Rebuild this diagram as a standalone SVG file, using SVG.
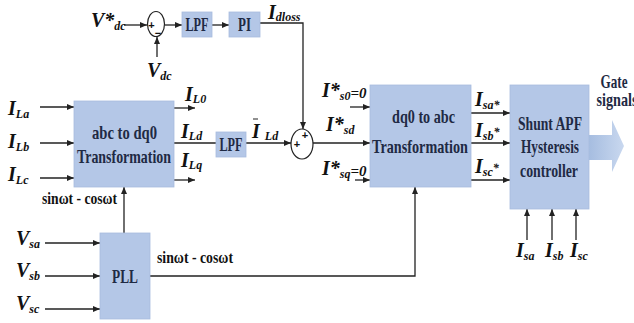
<svg xmlns="http://www.w3.org/2000/svg" width="634" height="323" viewBox="0 0 634 323">
<style>
.box{fill:#b4c7e7;stroke:#a8bcdf;stroke-width:0.8}
.ln{fill:none;stroke:#222;stroke-width:1.3}
.ar{fill:none;stroke:#222;stroke-width:1.3;marker-end:url(#ah)}
.bt{font-family:"Liberation Serif","Times New Roman",serif;font-weight:bold;font-size:19px;fill:#1f2a44;text-anchor:middle}
.lb{font-family:"Liberation Serif","Times New Roman",serif;font-weight:bold;font-style:italic;font-size:20px;fill:#111}
.sb{font-size:12px}
.pl{font-family:"Liberation Sans",Arial,sans-serif;font-weight:bold;font-size:11px;fill:#111;text-anchor:middle}
.st{font-family:"Liberation Serif","Times New Roman",serif;font-weight:bold;font-size:17px;fill:#111}
</style>
<defs>
<marker id="ah" markerUnits="userSpaceOnUse" markerWidth="8" markerHeight="6" refX="7" refY="3" orient="auto">
<path d="M0,0 L7,3 L0,6 z" fill="#222"/>
</marker>
<linearGradient id="gg" x1="0" y1="0" x2="1" y2="0">
<stop offset="0" stop-color="#a6bde0"/>
<stop offset="1" stop-color="#c9d8ef"/>
</linearGradient>
</defs>

<g id="connectors">
<line class="ar" x1="124" y1="25" x2="147" y2="25"/>
<line class="ar" x1="157" y1="57" x2="157" y2="37"/>
<line class="ar" x1="165" y1="25" x2="182" y2="25"/>
<line class="ar" x1="212" y1="25" x2="229" y2="25"/>
<polyline class="ar" points="260,23 303,23 303,129"/>
<line class="ar" x1="40" y1="107" x2="74" y2="107"/>
<line class="ar" x1="40" y1="143" x2="74" y2="143"/>
<line class="ar" x1="40" y1="178" x2="74" y2="178"/>
<line class="ar" x1="174" y1="108" x2="195" y2="108"/>
<line class="ln" x1="174" y1="143" x2="216" y2="143"/>
<line class="ar" x1="174" y1="180" x2="195" y2="180"/>
<line class="ar" x1="246" y1="143" x2="291" y2="143"/>
<line class="ar" x1="313" y1="143" x2="370" y2="143"/>
<line class="ar" x1="350" y1="107" x2="370" y2="107"/>
<line class="ar" x1="355" y1="180" x2="370" y2="180"/>
<line class="ar" x1="471" y1="113" x2="510" y2="113"/>
<line class="ar" x1="471" y1="143" x2="510" y2="143"/>
<line class="ar" x1="471" y1="180" x2="510" y2="180"/>
<line class="ar" x1="527" y1="240" x2="527" y2="209"/>
<line class="ar" x1="552" y1="240" x2="552" y2="209"/>
<line class="ar" x1="576" y1="240" x2="576" y2="209"/>
<line class="ar" x1="45" y1="243" x2="100" y2="243"/>
<line class="ar" x1="45" y1="276" x2="100" y2="276"/>
<line class="ar" x1="45" y1="309" x2="100" y2="309"/>
<line class="ar" x1="124" y1="233" x2="124" y2="187"/>
<polyline class="ar" points="150,276 415,276 415,187"/>
</g>

<g id="sum1">
<ellipse cx="156" cy="24" rx="8.5" ry="12.5" fill="none" stroke="#222" stroke-width="1.2"/>
<text class="pl" x="151.5" y="29">+</text>
<text class="pl" x="158" y="37">−</text>
</g>
<g id="lpf1">
<rect class="box" x="182" y="12" width="30" height="25"/>
<text class="bt" x="197" y="31" textLength="23" lengthAdjust="spacingAndGlyphs">LPF</text>
</g>
<g id="pi">
<rect class="box" x="229" y="12" width="31" height="25"/>
<text class="bt" x="244.5" y="31" textLength="13" lengthAdjust="spacingAndGlyphs">PI</text>
</g>
<g id="abc2dq0">
<rect class="box" x="74" y="101" width="100" height="86"/>
<text class="bt" x="124.5" y="139" textLength="65" lengthAdjust="spacingAndGlyphs">abc to dq0</text>
<text class="bt" x="124" y="163" textLength="94" lengthAdjust="spacingAndGlyphs">Transformation</text>
</g>
<g id="lpf2">
<rect class="box" x="216" y="132" width="30" height="25"/>
<text class="bt" x="231" y="151" textLength="23" lengthAdjust="spacingAndGlyphs">LPF</text>
</g>
<g id="sum2">
<ellipse cx="302" cy="144" rx="11" ry="15" fill="none" stroke="#222" stroke-width="1.2"/>
<text class="pl" x="305" y="139">+</text>
<text class="pl" x="297" y="148">+</text>
</g>
<g id="dq02abc">
<rect class="box" x="370" y="85" width="101" height="102"/>
<text class="bt" x="423.5" y="123" textLength="63" lengthAdjust="spacingAndGlyphs">dq0 to abc</text>
<text class="bt" x="420" y="153" textLength="96" lengthAdjust="spacingAndGlyphs">Transformation</text>
</g>
<g id="shunt">
<rect class="box" x="510" y="85" width="79" height="124"/>
<text class="bt" x="550" y="130" textLength="64" lengthAdjust="spacingAndGlyphs">Shunt APF</text>
<text class="bt" x="550" y="153" textLength="58" lengthAdjust="spacingAndGlyphs">Hysteresis</text>
<text class="bt" x="549" y="177" textLength="58" lengthAdjust="spacingAndGlyphs">controller</text>
</g>
<g id="gate">
<polygon points="589,135 612,135 612,120 624,146 612,172 612,160 589,160" fill="url(#gg)"/>
<text class="bt" x="614" y="88" font-size="17" textLength="27" lengthAdjust="spacingAndGlyphs">Gate</text>
<text class="bt" x="617" y="106" font-size="17" textLength="41" lengthAdjust="spacingAndGlyphs">signals</text>
</g>
<g id="pll">
<rect class="box" x="100" y="233" width="50" height="86"/>
<text class="bt" x="125" y="283" textLength="26" lengthAdjust="spacingAndGlyphs">PLL</text>
</g>

<g id="labels">
<text class="lb" x="91" y="27">V*<tspan class="sb" dy="3">dc</tspan></text>
<text class="lb" x="147" y="77">V<tspan class="sb" dy="3">dc</tspan></text>
<text class="lb" x="268" y="19" font-size="16">I<tspan class="sb" font-size="10" dy="2">dloss</tspan></text>
<text class="lb" x="8" y="115">I<tspan class="sb" dy="3">La</tspan></text>
<text class="lb" x="8" y="148">I<tspan class="sb" dy="3">Lb</tspan></text>
<text class="lb" x="8" y="181">I<tspan class="sb" dy="3">Lc</tspan></text>
<text class="lb" x="185" y="101" font-size="18">I<tspan class="sb" dy="2">L0</tspan></text>
<text class="lb" x="181" y="138" font-size="18">I<tspan class="sb" dy="2">Ld</tspan></text>
<text class="lb" x="181" y="167" font-size="18">I<tspan class="sb" dy="2">Lq</tspan></text>
<text class="lb" x="252" y="138" font-size="18">I<tspan class="sb" dx="5" dy="2">Ld</tspan></text>
<line x1="253" y1="119" x2="258" y2="119" stroke="#222" stroke-width="1"/>
<text class="lb" x="322" y="97" font-size="18">I*<tspan class="sb" dy="3">s0</tspan><tspan font-size="15" dy="-2">=0</tspan></text>
<text class="lb" x="326" y="131" font-size="18">I*<tspan class="sb" dy="3">sd</tspan></text>
<text class="lb" x="322" y="175" font-size="18">I*<tspan class="sb" dy="3">sq</tspan><tspan font-size="15" dy="-2">=0</tspan></text>
<text class="lb" x="475" y="106" font-size="18">I<tspan class="sb" dy="3">sa*</tspan></text>
<text class="lb" x="475" y="137" font-size="18">I<tspan class="sb" dy="3">sb</tspan><tspan class="sb" dy="-4">*</tspan></text>
<text class="lb" x="475" y="173" font-size="18">I<tspan class="sb" dy="3">sc</tspan><tspan class="sb" dy="-4">*</tspan></text>
<text class="lb" x="516" y="257" font-size="18">I<tspan class="sb" dy="3">sa</tspan></text>
<text class="lb" x="545" y="257" font-size="18">I<tspan class="sb" dy="3">sb</tspan></text>
<text class="lb" x="570" y="257" font-size="18">I<tspan class="sb" dy="3">sc</tspan></text>
<text class="lb" x="16" y="245">V<tspan class="sb" dy="3">sa</tspan></text>
<text class="lb" x="16" y="277">V<tspan class="sb" dy="3">sb</tspan></text>
<text class="lb" x="16" y="310">V<tspan class="sb" dy="3">sc</tspan></text>
<text class="st" x="42" y="204" textLength="75" lengthAdjust="spacingAndGlyphs">sinωt - cosωt</text>
<text class="st" x="157" y="263" textLength="76" lengthAdjust="spacingAndGlyphs">sinωt - cosωt</text>
</g>
</svg>
